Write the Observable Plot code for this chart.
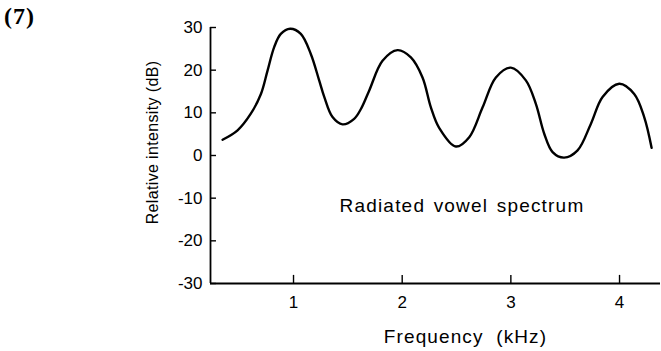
<!DOCTYPE html>
<html><head><meta charset="utf-8">
<script src="https://cdn.jsdelivr.net/npm/d3@7"></script>
<script src="https://cdn.jsdelivr.net/npm/@observablehq/plot@0.6"></script>
<style>
body{margin:0;background:#fff}
#wrap{position:relative;width:661px;height:351px}
#wrap svg{position:absolute;left:0;top:0}
#num{position:absolute;left:4px;top:4px;font:bold 24px "Liberation Serif","Times New Roman",serif;letter-spacing:1px;color:#000;line-height:1}
g[aria-description="note"] text{letter-spacing:1.2px;word-spacing:2px}
g[aria-description="x-label"] text{letter-spacing:1.1px}
g[aria-description="y-label"] text{letter-spacing:0.35px}
</style>
</head><body><div id="wrap"><div id="num">(7)</div></div>
<script>
const freq = [0.347,0.485,0.607,0.70,0.761,0.822,0.883,0.969,1.067,1.159,1.236,1.282,1.359,1.451,1.558,1.62,1.696,1.819,1.957,2.08,2.187,2.264,2.34,2.494,2.617,2.74,2.862,3.0,3.138,3.23,3.307,3.384,3.49,3.614,3.736,3.844,3.997,4.135,4.227,4.295];
const dB   = [3.7,5.9,9.8,14.4,19.9,25.4,28.5,29.7,28.5,23.8,17.6,13.8,9.0,7.3,8.6,10.9,15.2,22.2,24.7,23.0,18.3,11.3,6.5,2.1,4.3,11.3,18.3,20.6,17.6,12.1,5.1,0.8,-0.5,1.2,7.4,13.7,16.8,14.4,9.0,1.8];
const xTicks = [1,2,3,4];
const yTicks = [-30,-20,-10,0,10,20,30];
const xDomain = [0.236, 4.377];
const yDomain = [-30, 30];
const xLabel = "Frequency  (kHz)";
const yLabel = "Relative intensity (dB)";
const noteText = "Radiated vowel spectrum";
const noteX = 2.55, noteY = -11.8;
// inward tick lengths, in data units (≈8px and ≈6px)
const xTickLen = 1.9;
const yTickLen = 0.055;

const data = freq.map((f, i) => ({f, v: dB[i]}));
const font = '"Liberation Sans", Arial, Helvetica, sans-serif';

const chart = Plot.plot({
  width: 661, height: 351,
  marginLeft: 210, marginRight: 1, marginTop: 27, marginBottom: 68,
  style: {fontFamily: font, color: "#000", background: "transparent", overflow: "visible"},
  x: {domain: xDomain},
  y: {domain: yDomain},
  marks: [
    Plot.ruleY([yDomain[0]], {stroke: "#000", strokeWidth: 1.8}),
    Plot.ruleX([xDomain[0]], {stroke: "#000", strokeWidth: 1.8}),
    // inward tick marks
    Plot.ruleX(xTicks, {x: d => d, y1: yDomain[0], y2: yDomain[0] + xTickLen, stroke: "#000", strokeWidth: 1.4}),
    Plot.ruleY(yTicks, {y: d => d, x1: xDomain[0], x2: xDomain[0] + yTickLen, stroke: "#000", strokeWidth: 1.4}),
    // tick labels
    Plot.axisX(xTicks, {tickSize: 0, tickPadding: 12, fontSize: 17, tickFormat: d => String(d), label: null}),
    Plot.axisY(yTicks, {tickSize: 0, tickPadding: 8, fontSize: 17, tickFormat: d => String(d), label: null}),
    Plot.line(data, {x: "f", y: "v", curve: "catmull-rom", stroke: "#000", strokeWidth: 2.4}),
    Plot.text([noteText], {x: () => noteX, y: () => noteY, text: d => d, fontSize: 19, ariaDescription: "note"}),
    Plot.text([xLabel], {frameAnchor: "bottom", text: d => d, dx: 30, dy: 59, fontSize: 19, ariaDescription: "x-label"}),
    Plot.text([yLabel], {frameAnchor: "left", textAnchor: "middle", text: d => d, rotate: -90, dx: -58, dy: -13, fontSize: 16, ariaDescription: "y-label"})
  ]
});
document.getElementById("wrap").prepend(chart);
</script>
</body></html>
